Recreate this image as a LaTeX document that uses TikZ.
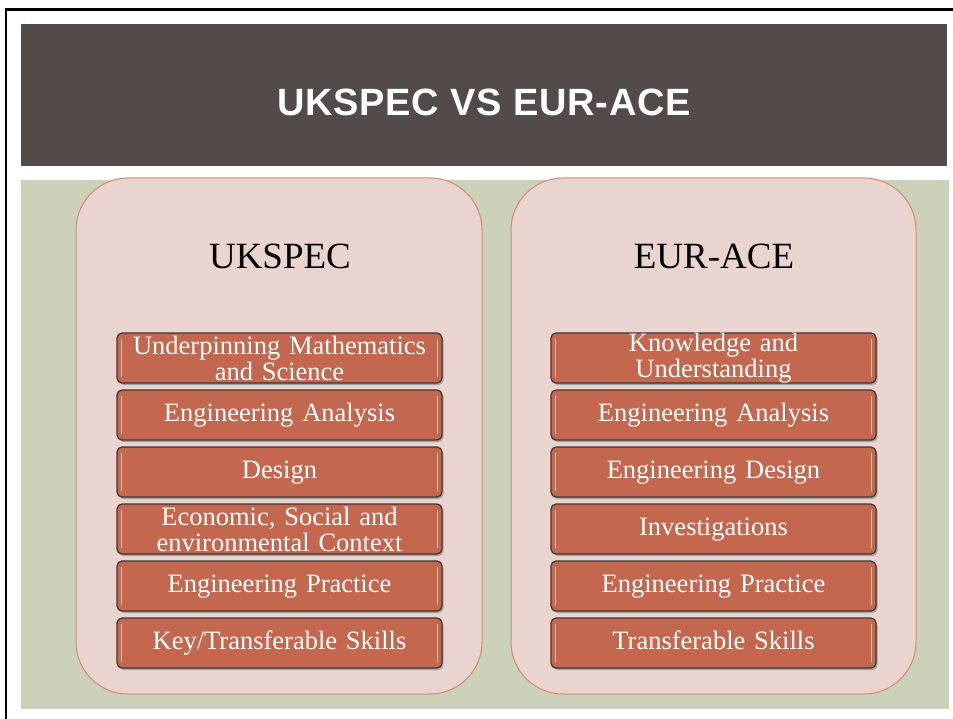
\documentclass[tikz,border=0pt]{standalone}
\usepackage{fontspec}
\setmainfont{Liberation Serif}
\newfontfamily\titlefont[LetterSpace=2]{Liberation Sans}
\usetikzlibrary{matrix, shadows}

\definecolor{barbrown}{HTML}{534B49}
\definecolor{sage}{HTML}{CCD2BA}
\definecolor{panelfill}{HTML}{E9D4CF}
\definecolor{panelline}{HTML}{D9876F}
\definecolor{boxfill}{HTML}{C4674F}
\definecolor{boxline}{HTML}{3C3634}
\definecolor{boxlight}{HTML}{F0B09C}

\begin{document}
\begin{tikzpicture}[x=1pt, y=-1pt,
  panel/.style={draw=panelline, fill=panelfill, line width=1pt, rounded corners=52pt, minimum width=406pt, minimum height=516pt},
  skill/.style={draw=boxline, fill=boxfill, line width=1.2pt, rounded corners=5pt, minimum width=325pt, minimum height=50pt, text width=318pt, text height=18pt, text depth=6pt, inner sep=0pt, align=center, text=white, font=\fontsize{26.5}{26}\selectfont, drop shadow={shadow xshift=1.5pt, shadow yshift=-2pt, opacity=.6}},
  twoline/.style={text height=, text depth=},
  hilite/.style={draw=boxlight, line width=1.5pt, line cap=round}]
\useasboundingbox (0,0) rectangle (953,719);
\fill[white] (0,0) rectangle (953,719);
\draw[line width=2.7pt] (6,719) -- (6,9.7) -- (953,9.7);
% title bar
\node (bar) [fill=barbrown, minimum width=926pt, minimum height=142pt, inner sep=0pt, anchor=north west] at (21,24) {};
\node (title) [anchor=base, text=white, font=\titlefont\bfseries\fontsize{38}{38}\selectfont] at (484,116) {UKSPEC VS EUR-ACE};
\fill[sage] (21,180) rectangle (949,709);
% panels
\node (ukpanel) [panel] at (279,436) {};
\node (eurpanel) [panel, minimum width=405pt] at (713.5,436) {};
\node (ukhead) [font=\fontsize{37}{37}\selectfont] at (280,256) {UKSPEC};
\node (eurhead) [font=\fontsize{37}{37}\selectfont] at (714,256) {EUR-ACE};
\matrix (uk) [matrix of nodes, nodes={skill}, row sep=5.8pt] at (279.5,500.5) {
|[twoline]| {Underpinning Mathematics\\ and Science} \\
Engineering Analysis \\
Design \\
|[twoline]| {Economic, Social and\\ environmental Context} \\
Engineering Practice \\
Key/Transferable Skills \\
};
\matrix (eur) [matrix of nodes, nodes={skill}, row sep=5.8pt] at (713.5,500.5) {
|[twoline]| {Knowledge and\\ Understanding} \\
Engineering Analysis \\
Engineering Design \\
Investigations \\
Engineering Practice \\
Transferable Skills \\
};
\foreach \m in {uk, eur}
  \foreach \i in {1,...,6} {
    \draw[hilite] ([shift={(5,7)}]\m-\i-1.north west) -- ([shift={(5,-7)}]\m-\i-1.south west);
    \draw[hilite] ([shift={(-5,7)}]\m-\i-1.north east) -- ([shift={(-5,-7)}]\m-\i-1.south east);
  }
\end{tikzpicture}
\end{document}
